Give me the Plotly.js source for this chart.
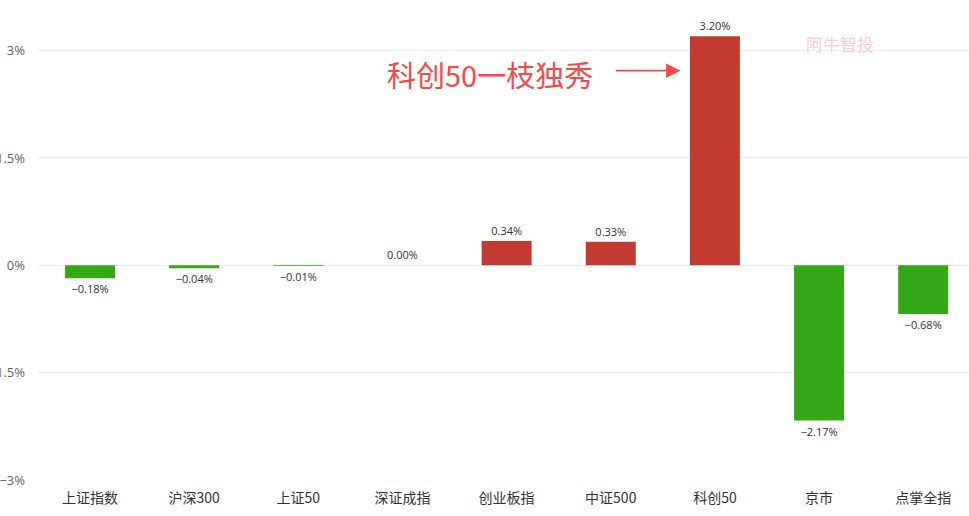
<!DOCTYPE html>
<html><head><meta charset="utf-8">
<script src="https://cdn.plot.ly/plotly-3.0.1.min.js"></script>
<style>html,body{margin:0;padding:0;background:#fff}#c{width:969px;height:516px}</style>
</head><body><div id="c"></div>
<script>
const categories = ["上证指数","沪深300","上证50","深证成指","创业板指","中证500","科创50","京市","点掌全指"];
const changes = [-0.18,-0.04,-0.01,0.00,0.34,0.33,3.20,-2.17,-0.68];
const labels = ["−0.18%","−0.04%","−0.01%","0.00%","0.34%","0.33%","3.20%","−2.17%","−0.68%"];
const tickVals = [-3,-1.5,0,1.5,3];
const tickText = ["−3%","1.5%","0%","1.5%","3%"];
const colors = changes.map(v => v > 0 ? "#c23b30" : "#35a817");

const trace = {
  type: "bar", x: categories, y: changes,
  marker: {color: colors, line: {width: 0}},
  text: labels, textposition: "outside", cliponaxis: false,
  textfont: {family: "Open Sans, Noto Sans CJK SC, sans-serif", size: 11, color: "#333"},
  hoverinfo: "none"
};
const layout = {
  width: 969, height: 516,
  margin: {l: 38, r: 0, t: 22, b: 36},
  paper_bgcolor: "#fff", plot_bgcolor: "#fff",
  showlegend: false, bargap: 0.52,
  font: {family: "Noto Sans CJK SC, sans-serif"},
  xaxis: {
    type: "category", range: [-0.5, 8.44], showgrid: false, zeroline: false, showline: false,
    ticks: "", tickfont: {size: 14, color: "#333", family: "Noto Sans CJK SC, sans-serif"},
    ticklabelstandoff: 8
  },
  yaxis: {
    range: [-3, 3.4], tickvals: tickVals, ticktext: tickText,
    showgrid: true, gridcolor: "#ececec", gridwidth: 1,
    zeroline: true, zerolinecolor: "#ececec", zerolinewidth: 1,
    showline: false, ticks: "", ticklabelstandoff: 12,
    tickfont: {size: 13, color: "#666", family: "Open Sans, sans-serif"}
  },
  annotations: [
    {x: 3.84, y: 2.68, xref: "x", yref: "y", text: "科创50一枝独秀", showarrow: false,
     font: {size: 29, color: "#f5484a", family: "Noto Sans CJK SC, sans-serif"}},
    {x: 5.67, y: 2.72, xref: "x", yref: "y", text: "", showarrow: true,
     ax: -66, ay: 0, arrowhead: 2, arrowsize: 1.8, arrowwidth: 1.6, arrowcolor: "#f5484a"},
    {x: 0.9, y: 0.985, xref: "paper", yref: "paper", text: "阿牛智投", showarrow: false,
     font: {size: 17, color: "#f7cfcf", family: "Noto Sans CJK SC, sans-serif"}}
  ]
};
Plotly.newPlot("c", [trace], layout, {displayModeBar: false, staticPlot: true});
</script></body></html>
